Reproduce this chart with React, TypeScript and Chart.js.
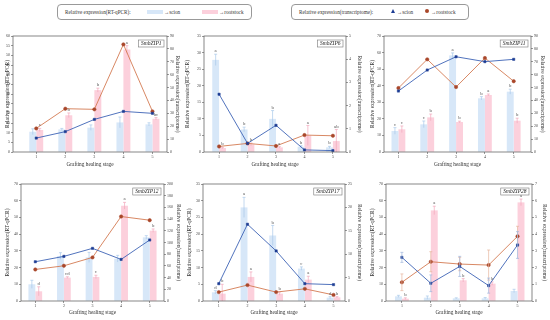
import React, { useEffect, useRef } from 'react';
import { Chart, registerables } from 'chart.js';
Chart.register(...registerables);

const FONT = "'Liberation Serif', 'Times New Roman', serif";

const stages = [1, 2, 3, 4, 5];

// SmbZIP1
const zip1Scion = [10.5, 11.7, 12.6, 15.3, 14.3];
const zip1Root = [11.4, 19, 32, 53, 17.2];
const zip1ScionErr = [1.5, 0.5, 1.4, 2.8, 0.8];
const zip1RootErr = [0.8, 1.2, 1.0, 2.0, 0.6];
const zip1ScionLetters = ['', '', '', '', ''];
const zip1RootLetters = ['c', 'b', 'b', 'a', 'bc'];
const zip1TScion = [10.8, 15.8, 25.3, 31.5, 30];
const zip1TRoot = [18.3, 33.6, 33.1, 83.5, 31.5];

// SmbZIP6
const zip6Scion = [27.8, 6.8, 10, 1.6, 1.4];
const zip6Root = [1.2, 2.3, 1.4, 5, 3.3];
const zip6ScionErr = [1.7, 0.7, 2.5, 0.3, 0.3];
const zip6RootErr = [0.2, 0.4, 0.2, 3.0, 3.5];
const zip6ScionLetters = ['a', 'b', 'b', 'b', 'b'];
const zip6RootLetters = ['b', 'b', 'a', 'a', 'ab'];
const zip6TScion = [2.49, 0.37, 1.15, 0.09, 0.06];
const zip6TRoot = [0.24, 0.37, 0.26, 0.73, 0.7];

// SmbZIP11
const zip11Scion = [12.7, 16.7, 58.3, 32.4, 36.4];
const zip11Root = [13.7, 20.9, 18.1, 34.4, 18.9];
const zip11ScionErr = [2, 2, 1.5, 1, 1.5];
const zip11RootErr = [2, 2, 0.5, 0.6, 1.5];
const zip11ScionLetters = ['c', 'c', 'a', 'b', 'b'];
const zip11RootLetters = ['c', 'b', 'b', 'a', 'b'];
const zip11TScion = [47.3, 63.6, 73.9, 70.1, 71.9];
const zip11TRoot = [49.6, 71.9, 50.4, 72.9, 54.9];

// SmbZIP12
const zip12Scion = [10, 26.9, 26.1, 25.3, 38.1];
const zip12Root = [5.8, 14, 14.4, 57, 42.1];
const zip12ScionErr = [2.4, 2, 3, 2, 1];
const zip12RootErr = [2.7, 0.5, 1, 2, 1];
const zip12ScionLetters = ['', '', '', '', ''];
const zip12RootLetters = ['d', 'cd', 'c', 'a', 'b'];
const zip12TScion = [67.1, 76.3, 90, 71.1, 104.3];
const zip12TRoot = [53.9, 60.2, 74.5, 144.4, 138.1];

// SmbZIP17
const zip17Scion = [2.6, 28, 19.6, 9.7, 1];
const zip17Root = [2.2, 7.2, 2.2, 6.4, 1.1];
const zip17ScionErr = [0.5, 3, 3, 0.5, 0.3];
const zip17RootErr = [2.8, 1.5, 0.5, 1, 0.2];
const zip17ScionLetters = ['d', 'a', 'b', 'c', 'd'];
const zip17RootLetters = ['b', 'a', 'b', 'a', 'b'];
const zip17TScion = [3.7, 16.4, 10.7, 3.7, 3.5];
const zip17TRoot = [1.9, 3.4, 1.9, 2.6, 1.3];

// SmbZIP28
const zip28Scion = [2.8, 2, 1.6, 1.6, 6];
const zip28Root = [1.4, 54.2, 12.4, 10.4, 59];
const zip28ScionErr = [0.6, 1, 0.3, 0.5, 1];
const zip28RootErr = [0.5, 2.5, 1, 1, 2];
const zip28ScionLetters = ['', '', '', '', ''];
const zip28RootLetters = ['b', 'a', 'b', 'b', 'a'];
const zip28TScion = [2.61, 1.06, 2.07, 0.92, 3.35];
const zip28TRoot = [1.12, 2.35, 2.21, 2.15, 3.87];
const zip28TScionErr = [0.3, 0.5, 0.6, 0.45, 0.8];
const zip28TRootErr = [0.5, 0.6, 0.4, 0.9, 0.6];

const SCION_BAR = '#d7e7f8';
const ROOT_BAR = '#fcd0dc';
const SCION_ERR = '#a9c8ea';
const ROOT_ERR = '#f2a7bb';
const SCION_LINE = '#3d63b5';
const ROOT_LINE = '#d47b52';
const SCION_MARK = '#1d3c93';
const ROOT_MARK = '#a9472a';

const panels = [
  { gene: 'SmbZIP1', left: 13, right: 167, top: 36, bottom: 152, leftW: 9, rightW: 14, xH: 16, xMin: 0.2, xMax: 5.5, lMax: 60, lStep: 5, rMax: 90, rStep: 10,
    scion: zip1Scion, root: zip1Root, scionErr: zip1ScionErr, rootErr: zip1RootErr, scionLetters: zip1ScionLetters, rootLetters: zip1RootLetters, tScion: zip1TScion, tRoot: zip1TRoot },
  { gene: 'SmbZIP6', left: 204, right: 346, top: 36, bottom: 152, leftW: 20, rightW: 17, xH: 16, xMin: 0.47, xMax: 5.46, lMax: 35, lStep: 5, rMax: 5, rStep: 1,
    scion: zip6Scion, root: zip6Root, scionErr: zip6ScionErr, rootErr: zip6RootErr, scionLetters: zip6ScionLetters, rootLetters: zip6RootLetters, tScion: zip6TScion, tRoot: zip6TRoot },
  { gene: 'SmbZIP11', left: 384, right: 531, top: 36, bottom: 152, leftW: 15, rightW: 15, xH: 16, xMin: 0.5, xMax: 5.6, lMax: 70, lStep: 10, rMax: 90, rStep: 10,
    scion: zip11Scion, root: zip11Root, scionErr: zip11ScionErr, rootErr: zip11RootErr, scionLetters: zip11ScionLetters, rootLetters: zip11RootLetters, tScion: zip11TScion, tRoot: zip11TRoot },
  { gene: 'SmbZIP12', left: 21, right: 164, top: 184, bottom: 301, leftW: 17, rightW: 18, xH: 15, xMin: 0.5, xMax: 5.5, lMax: 70, lStep: 10, rMax: 200, rStep: 20,
    scion: zip12Scion, root: zip12Root, scionErr: zip12ScionErr, rootErr: zip12RootErr, scionLetters: zip12ScionLetters, rootLetters: zip12RootLetters, tScion: zip12TScion, tRoot: zip12TRoot },
  { gene: 'SmbZIP17', left: 203, right: 345, top: 184, bottom: 301, leftW: 17, rightW: 18, xH: 15, xMin: 0.45, xMax: 5.4, lMax: 35, lStep: 5, rMax: 25, rStep: 5,
    scion: zip17Scion, root: zip17Root, scionErr: zip17ScionErr, rootErr: zip17RootErr, scionLetters: zip17ScionLetters, rootLetters: zip17RootLetters, tScion: zip17TScion, tRoot: zip17TRoot },
  { gene: 'SmbZIP28', left: 386, right: 532, top: 184, bottom: 301, leftW: 17, rightW: 16, xH: 15, xMin: 0.45, xMax: 5.5, lMax: 70, lStep: 10, rMax: 7, rStep: 1,
    scion: zip28Scion, root: zip28Root, scionErr: zip28ScionErr, rootErr: zip28RootErr, scionLetters: zip28ScionLetters, rootLetters: zip28RootLetters, tScion: zip28TScion, tRoot: zip28TRoot, tScionErr: zip28TScionErr, tRootErr: zip28TRootErr },
];

const decoPlugin = {
  id: 'deco',
  afterDatasetDraw(chart: any, args: any) {
    const ds: any = chart.data.datasets[args.index];
    const err = ds.errors;
    if (!err) return;
    const scale = chart.scales[ds.yAxisID];
    const ctx = chart.ctx;
    const isLine = ds.type === 'line';
    ctx.save();
    ctx.strokeStyle = ds.errColor;
    ctx.lineWidth = 0.7;
    args.meta.data.forEach((el: any, i: number) => {
      const e = err[i];
      if (!e) return;
      const v = ds.data[i].y;
      const x = el.x;
      const yt = scale.getPixelForValue(v + e);
      const yb = scale.getPixelForValue(Math.max(0, v - e));
      ctx.beginPath();
      ctx.moveTo(x, yt); ctx.lineTo(x, yb);
      ctx.moveTo(x - 1.5, yt); ctx.lineTo(x + 1.5, yt);
      if (isLine) { ctx.moveTo(x - 1.5, yb); ctx.lineTo(x + 1.5, yb); }
      ctx.stroke();
    });
    ctx.restore();
  },
  afterDatasetsDraw(chart: any) {
    const ctx = chart.ctx;
    ctx.save();
    ctx.fillStyle = '#555';
    ctx.font = `4.8px ${FONT}`;
    ctx.textAlign = 'center';
    ctx.textBaseline = 'bottom';
    chart.data.datasets.forEach((ds: any, di: number) => {
      if (!ds.letters) return;
      const meta = chart.getDatasetMeta(di);
      const scale = chart.scales[ds.yAxisID];
      meta.data.forEach((el: any, i: number) => {
        const t = ds.letters[i];
        if (!t) return;
        const v = ds.data[i].y + (ds.errors ? ds.errors[i] : 0);
        ctx.fillText(t, el.x, scale.getPixelForValue(v) - 0.8);
      });
    });
    ctx.restore();
  },
  afterDraw(chart: any) {
    const { ctx, chartArea: a } = chart;
    const gene = chart.options.plugins.deco.gene;
    ctx.save();
    ctx.strokeStyle = '#555';
    ctx.lineWidth = 0.7;
    ctx.strokeRect(a.left, a.top, a.right - a.left, a.bottom - a.top);
    ctx.font = `italic 5.5px ${FONT}`;
    const tw = ctx.measureText(gene).width;
    const bw = tw + 5;
    const bh = 7;
    const bx = a.right - 3 - bw;
    const by = a.top + 4;
    ctx.fillStyle = '#fff';
    ctx.fillRect(bx, by, bw, bh);
    ctx.strokeStyle = '#777';
    ctx.lineWidth = 0.6;
    ctx.strokeRect(bx, by, bw, bh);
    ctx.fillStyle = '#222';
    ctx.textAlign = 'center';
    ctx.textBaseline = 'middle';
    ctx.fillText(gene, bx + bw / 2, by + bh / 2 + 0.3);
    ctx.restore();
  },
};

function Panel({ p }: { p: any }) {
  const ref = useRef<HTMLCanvasElement>(null);
  const padTop = 6;
  const w = p.right - p.left + p.leftW + p.rightW;
  const h = p.bottom - p.top + padTop + p.xH;
  useEffect(() => {
    const toXY = (arr: number[]) => arr.map((y, i) => ({ x: stages[i], y }));
    const tickFont = { size: 4, family: FONT };
    const titleFont = { size: 5.5, family: FONT };
    const grid = { drawOnChartArea: false, tickLength: 2, color: '#555', lineWidth: 0.6, offset: false };
    const chart = new Chart(ref.current as HTMLCanvasElement, {
      type: 'bar',
      data: {
        datasets: [
          { type: 'line', label: 'scion-t', data: toXY(p.tScion), borderColor: SCION_LINE, backgroundColor: SCION_MARK, pointBackgroundColor: SCION_MARK, pointBorderColor: SCION_MARK, pointStyle: 'rect', pointRadius: 1.6, pointBorderWidth: 0.5, borderWidth: 0.9, tension: 0, yAxisID: 'y1', order: 1, errors: p.tScionErr, errColor: '#9fb6dd' } as any,
          { type: 'line', label: 'root-t', data: toXY(p.tRoot), borderColor: ROOT_LINE, backgroundColor: ROOT_MARK, pointBackgroundColor: ROOT_MARK, pointBorderColor: ROOT_MARK, pointStyle: 'circle', pointRadius: 1.7, pointBorderWidth: 0.5, borderWidth: 0.9, tension: 0, yAxisID: 'y1', order: 1, errors: p.tRootErr, errColor: '#e6b49c' } as any,
          { type: 'bar', label: 'scion', data: toXY(p.scion), backgroundColor: SCION_BAR, borderWidth: 0, yAxisID: 'y', order: 2, categoryPercentage: 0.48, barPercentage: 1, errors: p.scionErr, errColor: SCION_ERR, letters: p.scionLetters } as any,
          { type: 'bar', label: 'root', data: toXY(p.root), backgroundColor: ROOT_BAR, borderWidth: 0, yAxisID: 'y', order: 2, categoryPercentage: 0.48, barPercentage: 1, errors: p.rootErr, errColor: ROOT_ERR, letters: p.rootLetters } as any,
        ],
      },
      options: {
        animation: false,
        responsive: false,
        devicePixelRatio: 1,
        events: [],
        layout: { padding: { top: padTop, left: 0, right: 0, bottom: 0 } },
        plugins: { legend: { display: false }, tooltip: { enabled: false }, deco: { gene: p.gene } } as any,
        scales: {
          x: {
            type: 'linear', min: p.xMin, max: p.xMax, offset: false, bounds: 'data',
            grid, border: { display: false },
            ticks: { font: tickFont, color: '#444', padding: 1, autoSkip: false, maxRotation: 0, callback: (v: any) => String(v) },
            afterBuildTicks: (s: any) => { s.ticks = stages.map((v) => ({ value: v })); },
            title: { display: true, text: 'Grafting healing stage', font: { size: 5.3, family: FONT }, color: '#333', padding: 0 },
            afterFit: (s: any) => { s.height = p.xH; },
          },
          y: {
            type: 'linear', position: 'left', min: 0, max: p.lMax,
            grid, border: { display: false },
            ticks: { stepSize: p.lStep, font: tickFont, color: '#444', padding: 1, autoSkip: false },
            title: { display: true, text: 'Relative expression(RT-qPCR)', font: titleFont, color: '#333', padding: 0 },
            afterFit: (s: any) => { s.width = p.leftW; },
          },
          y1: {
            type: 'linear', position: 'right', min: 0, max: p.rMax,
            grid, border: { display: false },
            ticks: { stepSize: p.rStep, font: tickFont, color: '#444', padding: 1, autoSkip: false },
            title: { display: true, text: 'Relative expression(transcriptome)', font: titleFont, color: '#333', padding: 0 },
            afterFit: (s: any) => { s.width = p.rightW; },
          },
        },
      } as any,
      plugins: [decoPlugin as any],
    });
    return () => chart.destroy();
  }, []);
  return (
    <canvas
      ref={ref}
      width={w}
      height={h}
      style={{ position: 'absolute', left: p.left - p.leftW, top: p.top - padTop, width: w, height: h }}
    />
  );
}

const txt: React.CSSProperties = { position: 'absolute', fontFamily: FONT, fontSize: 5.2, color: '#333', lineHeight: '6px', whiteSpace: 'nowrap', top: 8.5 };

export default function App() {
  useEffect(() => {
    document.body.style.margin = '0';
  }, []);
  return (
    <div style={{ position: 'absolute', left: 0, top: 0, width: 550, height: 320, background: '#fff', overflow: 'hidden' }}>
      {/* legend 1 */}
      <div style={{ position: 'absolute', left: 57, top: 4, width: 193, height: 14, border: '0.8px solid #999', borderRadius: 4 }} />
      <div style={{ ...txt, left: 65 }}>Relative expression(RT-qPCR):</div>
      <div style={{ position: 'absolute', left: 147, top: 9.5, width: 16, height: 4, background: SCION_BAR }} />
      <div style={{ ...txt, left: 164 }}>→scion</div>
      <div style={{ position: 'absolute', left: 202, top: 9.5, width: 16, height: 4, background: ROOT_BAR }} />
      <div style={{ ...txt, left: 219 }}>→rootstock</div>
      {/* legend 2 */}
      <div style={{ position: 'absolute', left: 291, top: 4, width: 176, height: 14, border: '0.8px solid #999', borderRadius: 4 }} />
      <div style={{ ...txt, left: 299 }}>Relative expression(transcriptome):</div>
      <div style={{ position: 'absolute', left: 391, top: 9.2, width: 0, height: 0, borderLeft: '2.3px solid transparent', borderRight: '2.3px solid transparent', borderBottom: `4.5px solid ${SCION_MARK}` }} />
      <div style={{ ...txt, left: 397 }}>→scion</div>
      <div style={{ position: 'absolute', left: 424.5, top: 9.3, width: 4, height: 4, borderRadius: 2, background: ROOT_MARK }} />
      <div style={{ ...txt, left: 431 }}>→rootstock</div>
      {panels.map((p) => (
        <Panel key={p.gene} p={p} />
      ))}
    </div>
  );
}
